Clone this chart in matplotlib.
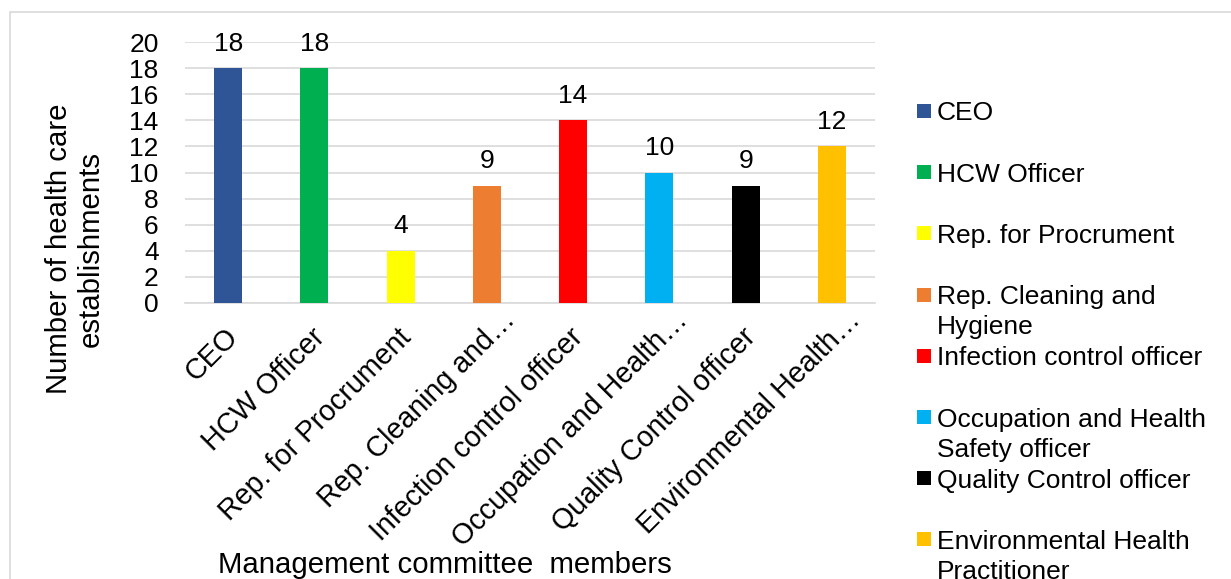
import matplotlib
matplotlib.use("Agg")
import matplotlib.pyplot as plt
from matplotlib.patches import Rectangle
import matplotlib.transforms as mtransforms

categories = ["CEO", "HCW Officer", "Rep. for Procrument", "Rep. Cleaning and Hygiene",
              "Infection control officer", "Occupation and Health Safety officer",
              "Quality Control officer", "Environmental Health Practitioner"]
tick_labels = ["CEO", "HCW Officer", "Rep. for Procrument", "Rep. Cleaning and\u2026",
               "Infection control officer", "Occupation and Health\u2026",
               "Quality Control officer", "Environmental Health\u2026"]
legend_labels = ["CEO", "HCW Officer", "Rep. for Procrument", "Rep. Cleaning and\nHygiene",
                 "Infection control officer", "Occupation and Health\nSafety officer",
                 "Quality Control officer", "Environmental Health\nPractitioner"]
values = [18, 18, 4, 9, 14, 10, 9, 12]
colors = ["#2F5597", "#00B050", "#FFFF00", "#ED7D31", "#FF0000", "#00B0F0", "#000000", "#FFC000"]
yticks = list(range(0, 21, 2))

plt.rcParams['font.family'] = ['Liberation Sans', 'DejaVu Sans']
FS = 19
FS_BIG = 21.2
FS_TICK = 20.6

W, H = 1231, 579
fig = plt.figure(figsize=(W / 100, H / 100), dpi=100)
fig.patch.set_facecolor("white")

# outer border
fig.patches.append(Rectangle((10 / W, -0.1), 1.2, (H - 12) / H + 0.1, transform=fig.transFigure,
                             fill=False, edgecolor="#D9D9D9", linewidth=1.2))

ax = fig.add_axes([185 / W, (H - 303) / H, 690 / W, 261 / H])
x = list(range(len(categories)))
bars = ax.bar(x, values, width=0.325, color=colors, zorder=3)
ax.set_xlim(-0.5, len(categories) - 0.5)
ax.set_ylim(0, 20)
ax.set_yticks(yticks)
ax.yaxis.grid(True, color="#D9D9D9", linewidth=1.2, zorder=0)
ax.set_axisbelow(True)
for s in ["top", "right", "left"]:
    ax.spines[s].set_visible(False)
ax.spines["bottom"].set_color("#D9D9D9")
ax.spines["bottom"].set_linewidth(1.2)
ax.tick_params(axis="both", length=0, labelsize=FS)
ax.tick_params(axis="y", pad=19)
ax.set_xticks(x)
ax.set_xticklabels(tick_labels, rotation=45, ha="right", va="center", rotation_mode="anchor",
                   fontsize=FS_TICK)
for lab in ax.get_xticklabels():
    if lab.get_text().endswith("\u2026"):
        dx, dy = 24, -8
    else:
        dx, dy = 6, -25
    off = mtransforms.ScaledTranslation(dx / 100, dy / 100, fig.dpi_scale_trans)
    lab.set_transform(lab.get_transform() + off)

for b, v in zip(bars, values):
    ax.annotate(str(v), (b.get_x() + b.get_width() / 2, v), xytext=(0, 9),
                textcoords="offset points", ha="center", va="bottom", fontsize=FS)

fig.text(75 / W, 1 - 249 / H, "Number of health care\nestablishments", rotation=90,
         ha="center", va="center", fontsize=FS_BIG, linespacing=1.2)
fig.text(445 / W, 1 - 573 / H, "Management committee  members", ha="center", va="baseline",
         fontsize=FS_BIG)

# legend
first_y = 111
pitch = 61.2
line_pitch = 30
for i, (lab, c) in enumerate(zip(legend_labels, colors)):
    yc = first_y + i * pitch
    fig.patches.append(Rectangle((917 / W, 1 - (yc + 7) / H), 14 / W, 14 / H,
                                 transform=fig.transFigure, facecolor=c, edgecolor="none"))
    for j, line in enumerate(lab.split("\n")):
        fig.text(937 / W, 1 - (yc + j * line_pitch) / H, line, ha="left", va="center_baseline",
                 fontsize=FS)

fig.savefig("out.png", dpi=100)
